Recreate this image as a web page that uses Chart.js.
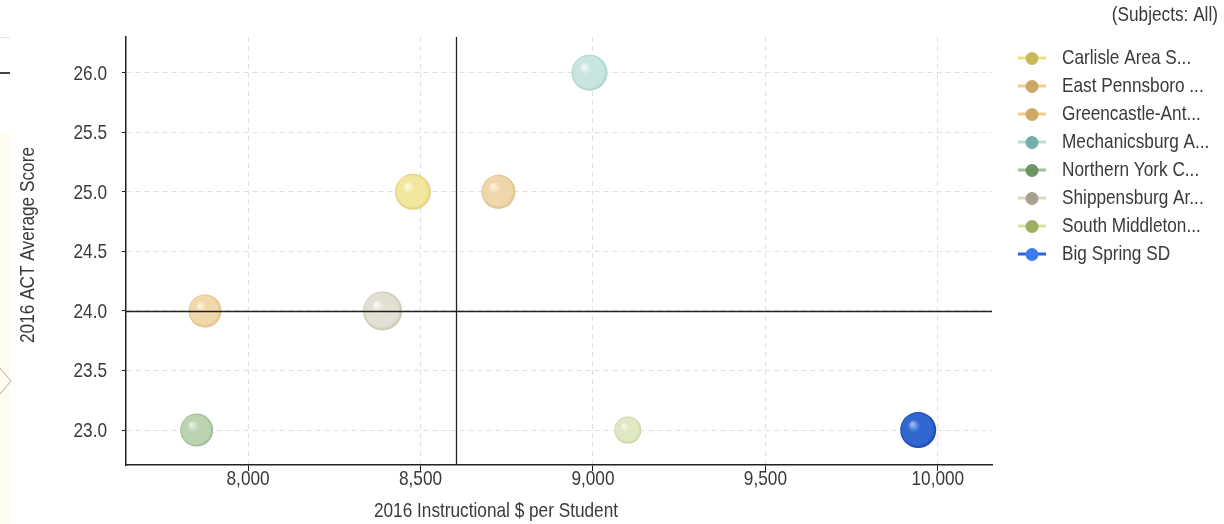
<!DOCTYPE html>
<html>
<head>
<meta charset="utf-8">
<script src="https://cdn.jsdelivr.net/npm/chart.js@4"></script>
<style>
  body { margin: 0; background: #fff; }
  .wrap { position: relative; width: 1224px; height: 524px; overflow: hidden; }
  .lado { position: absolute; left: 0; top: 133px; width: 10px; height: 391px; background: #fefcf0; }
  .raya { position: absolute; left: 0; top: 72px; width: 10px; height: 2px; background: #444; }
  .punteada { position: absolute; left: 0; top: 37px; width: 10px; border-top: 1px dashed #ddd; }
  .flecha { position: absolute; left: 0; top: 366px; }
  canvas { position: absolute; left: 0; top: 0; }
</style>
</head>
<body>
<div class="wrap">
  <div class="lado"></div>
  <div class="raya"></div>
  <div class="punteada"></div>
  <svg class="flecha" width="14" height="30"><polyline points="0,2 11,15 0,28" fill="none" stroke="#b8a898" stroke-width="1"/></svg>
  <canvas id="myChart" width="1224" height="524"></canvas>
</div>
<script>
const $grafica = document.getElementById('myChart')

// datos
const distritos = ['Carlisle Area S...', 'East Pennsboro ...', 'Greencastle-Ant...', 'Mechanicsburg A...', 'Northern York C...', 'Shippensburg Ar...', 'South Middleton...', 'Big Spring SD']
const gastoAlumno = [8478, 8726, 7875, 8990, 7851, 8390, 9101, 9943]
const puntajeACT = [25.0, 25.0, 24.0, 26.0, 23.0, 24.0, 23.0, 23.0]
const tamanoBurbuja = [18, 17, 16.5, 18, 16.5, 19.5, 13.5, 18]

const ticksX = [8000, 8500, 9000, 9500, 10000]
const ticksY = [23.0, 23.5, 24.0, 24.5, 25.0, 25.5, 26.0]
const rangoX = [7646, 10157]
const rangoY = [22.707, 26.30]
const referenciaX = 8604
const referenciaY = 24.0

// colores: [brillo, base, borde] y leyenda [linea, punto]
const coloresBurbuja = [
  ['#fffbe0', '#f0e69c', '#dccf76'],
  ['#fff6e6', '#efd6ac', '#dfbd88'],
  ['#fff6e6', '#f0d8aa', '#e0be86'],
  ['#f4fbfa', '#c9e5e1', '#a8d0ca'],
  ['#eef5ec', '#bcd3b3', '#9ab98f'],
  ['#fbfaf5', '#e3dfd2', '#cbc4b0'],
  ['#f8fbea', '#dfe8c2', '#c6d49e'],
  ['#a8c4f4', '#2f66d0', '#1c45a8']
]
const coloresLeyenda = [
  ['#f2e27a', '#c8b85a'],
  ['#f4cc8a', '#c9a868'],
  ['#f4ca8a', '#cea866'],
  ['#b6e0dc', '#74aea9'],
  ['#9cc294', '#6f9565'],
  ['#dfd7c7', '#a8a090'],
  ['#cfe0a2', '#9cb062'],
  ['#2b64e0', '#3b7cf0']
]

const fuente = "'Liberation Sans', Arial, sans-serif"
const colorTexto = '#3a3a3a'

function degradado(ctx, i) {
  const c = coloresBurbuja[i]
  if (ctx.type !== 'data' || !ctx.raw) return c[1]
  const escalaX = ctx.chart.scales.x
  const escalaY = ctx.chart.scales.y
  if (!escalaX || !escalaY) return c[1]
  const cx = escalaX.getPixelForValue(ctx.raw.x)
  const cy = escalaY.getPixelForValue(ctx.raw.y)
  const r = ctx.raw.r
  if (!isFinite(cx) || !isFinite(cy) || !isFinite(r)) return c[1]
  const g = ctx.chart.ctx.createRadialGradient(cx - r * 0.35, cy - r * 0.35, 0, cx, cy, r)
  g.addColorStop(0, c[0])
  g.addColorStop(0.35, c[1])
  g.addColorStop(0.85, c[1])
  g.addColorStop(1, c[2])
  return g
}

// texto angosto (la fuente original es condensada)
function textoAngosto(c, texto, x, y, alinear) {
  c.save()
  c.translate(x, y)
  c.scale(0.82, 1)
  c.textAlign = alinear
  c.fillText(texto, 0, 0)
  c.restore()
}

let conjuntos = []
for (let i = 0; i < distritos.length; i++) {
  conjuntos[i] = {
    label: distritos[i],
    data: [{x: gastoAlumno[i], y: puntajeACT[i], r: tamanoBurbuja[i]}],
    backgroundColor: (ctx) => degradado(ctx, i),
    hoverBackgroundColor: (ctx) => degradado(ctx, i),
    borderWidth: 0,
    hoverBorderWidth: 0
  }
}

const extras = {
  id: 'extras',
  afterDatasetsDraw(chart) {
    const c = chart.ctx
    const area = chart.chartArea
    const px = chart.scales.x.getPixelForValue(referenciaX)
    const py = chart.scales.y.getPixelForValue(referenciaY)
    c.save()
    c.strokeStyle = '#222'
    c.lineWidth = 1.3
    c.beginPath()
    c.moveTo(Math.round(px) + 0.5, area.top)
    c.lineTo(Math.round(px) + 0.5, area.bottom)
    c.moveTo(area.left, Math.round(py) + 0.5)
    c.lineTo(area.right, Math.round(py) + 0.5)
    c.stroke()
    c.restore()
  },
  afterDraw(chart) {
    const c = chart.ctx
    const ejeX = chart.scales.x
    const ejeY = chart.scales.y
    c.save()
    c.font = '21px ' + fuente
    c.fillStyle = colorTexto
    c.textBaseline = 'middle'

    // etiquetas de los ejes
    for (let v of ticksX) {
      textoAngosto(c, v.toLocaleString('en-US'), ejeX.getPixelForValue(v), 479, 'center')
    }
    for (let v of ticksY) {
      textoAngosto(c, v.toFixed(1), 107, ejeY.getPixelForValue(v) + 1, 'right')
    }

    // titulos
    textoAngosto(c, '2016 Instructional $ per Student', ejeX.right / 2, 511, 'center')
    c.save()
    c.translate(28, 245)
    c.rotate(-Math.PI / 2)
    textoAngosto(c, '2016 ACT Average Score', 0, 0, 'center')
    c.restore()
    textoAngosto(c, '(Subjects: All)', 1218, 15, 'right')

    // leyenda
    for (let i = 0; i < distritos.length; i++) {
      const y = 58 + i * 28
      c.strokeStyle = coloresLeyenda[i][0]
      c.lineWidth = 3
      c.beginPath()
      c.moveTo(1018, y)
      c.lineTo(1046, y)
      c.stroke()
      c.fillStyle = coloresLeyenda[i][1]
      c.beginPath()
      c.arc(1032, y + 0.5, 6.5, 0, Math.PI * 2)
      c.fill()
      c.fillStyle = colorTexto
      textoAngosto(c, distritos[i], 1062, y, 'left')
    }
    c.restore()
  }
}

const myChart = new Chart($grafica, {
  type: 'bubble',
  data: { datasets: conjuntos },
  plugins: [extras],
  options: {
    responsive: false,
    animation: false,
    layout: { padding: { top: 37, right: 232, bottom: 0, left: 0 } },
    plugins: {
      legend: { display: false },
      tooltip: { enabled: false }
    },
    scales: {
      x: {
        type: 'linear',
        min: rangoX[0],
        max: rangoX[1],
        afterBuildTicks: (s) => { s.ticks = ticksX.map(v => ({value: v})) },
        afterFit: (s) => { s.height = 59 },
        ticks: { display: false },
        grid: {
          color: '#e0e0e0',
          tickLength: 6,
          tickColor: '#222',
          tickBorderDash: []
        },
        border: { color: '#222', width: 1.5, dash: [5, 4] }
      },
      y: {
        type: 'linear',
        min: rangoY[0],
        max: rangoY[1],
        afterBuildTicks: (s) => { s.ticks = ticksY.map(v => ({value: v})) },
        afterFit: (s) => { s.width = 126 },
        ticks: { display: false },
        grid: {
          color: '#e0e0e0',
          tickLength: 4,
          tickColor: '#222',
          tickBorderDash: []
        },
        border: { color: '#222', width: 1.5, dash: [5, 4] }
      }
    }
  }
})
</script>
</body>
</html>
